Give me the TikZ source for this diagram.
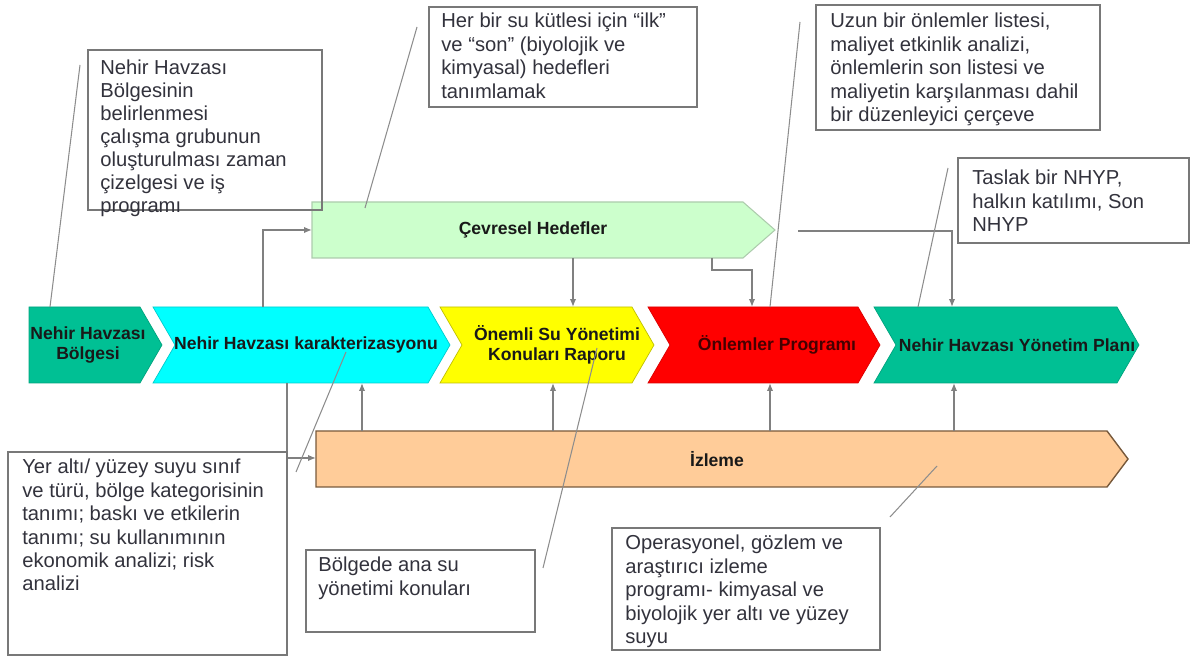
\documentclass[tikz,border=0pt]{standalone}
\usepackage{fontspec}
\setmainfont{Liberation Sans}
\usetikzlibrary{arrows.meta, positioning, calc}
\definecolor{havza}{RGB}{0,192,148}
\definecolor{karakter}{RGB}{0,255,255}
\definecolor{rapor}{RGB}{255,255,0}
\definecolor{onlem}{RGB}{255,0,0}
\definecolor{hedef}{RGB}{204,255,204}
\definecolor{izleme}{RGB}{255,204,153}
\definecolor{izlemecizgi}{RGB}{120,90,60}
\definecolor{hatgri}{RGB}{128,128,128}
\definecolor{kutugri}{RGB}{120,120,120}
\definecolor{yazigri}{RGB}{50,50,60}

\begin{document}
\begin{tikzpicture}[x=0.02cm, y=-0.02cm,
  ok/.style={draw=hatgri, line width=0.8pt, -{Latex[length=4.5pt,width=3.6pt]}},
  ip/.style={draw=hatgri!90, line width=0.6pt},
  kutu/.style={draw=kutugri, line width=0.8pt},
  yazi/.style={anchor=north west, align=left, inner sep=0pt, text=yazigri, font=\fontsize{11.5}{13.3}\selectfont},
  etiket/.style={font=\bfseries\fontsize{10}{11.5}\selectfont, text=black!90, align=center}]
  \useasboundingbox (0,0) rectangle (1191,661);

  % ana zincir
  \filldraw[fill=havza, draw=havza!85!black, line width=0.4pt] (29,307) -- (140,307) -- (162,345) -- (140,383) -- (29,383) -- cycle;
  \filldraw[fill=karakter, draw=karakter!80!black, line width=0.4pt] (153,307) -- (428,307) -- (450,345) -- (428,383) -- (153,383) -- (175,345) -- cycle;
  \filldraw[fill=rapor, draw=rapor!75!black, line width=0.4pt] (440,307) -- (632,307) -- (654,345) -- (632,383) -- (440,383) -- (462,345) -- cycle;
  \filldraw[fill=onlem, draw=onlem!85!black, line width=0.4pt] (648,307) -- (858,307) -- (880,345) -- (858,383) -- (648,383) -- (670,345) -- cycle;
  \filldraw[fill=havza, draw=havza!85!black, line width=0.4pt] (874,307) -- (1117,307) -- (1139,345) -- (1117,383) -- (874,383) -- (896,345) -- cycle;
  \node[etiket] (bolge) at (88,345) {Nehir Havzası\\Bölgesi};
  \node[etiket] (karakt) at (306,345) {Nehir Havzası karakterizasyonu};
  \node[etiket] (rapor) at (557,345) {Önemli Su Yönetimi\\Konuları Raporu};
  \node[etiket, text={rgb,255:red,70;green,0;blue,0}] (onlemler) at (777,345) {Önlemler Programı};
  \node[etiket] (plan) at (1017,345) {Nehir Havzası Yönetim Planı};

  % hedefler ve izleme
  \filldraw[fill=hedef, draw=hedef!60!gray, line width=0.6pt] (312,202) -- (743,202) -- (775,230) -- (743,258) -- (312,258) -- cycle;
  \node[etiket] (hedefler) at (533,230) {Çevresel Hedefler};
  \filldraw[fill=izleme, draw=izlemecizgi, line width=0.8pt] (316,431) -- (1107,431) -- (1128,459) -- (1107,487) -- (316,487) -- cycle;
  \node[etiket] (izlem) at (717,459) {İzleme};

  \coordinate (cevW) at (312,230);
  \coordinate (cevS) at (0,258);
  \coordinate (zU) at (0,307);
  \coordinate (zA) at (0,383);
  \coordinate (izU) at (0,431);
  \coordinate (izW) at (316,458);

  % bağlantılar
  \draw[ok] (263,0 |- zU) |- (cevW);
  \draw[ok] (573,0 |- cevS) -- (573,0 |- zU);
  \draw[ok] (712,0 |- cevS) -- (712,270) -| (752,0 |- zU);
  \draw[ok] (798,231) -| (952,0 |- zU);
  \foreach \x in {362,553,770,954}
    \draw[ok] (\x,0 |- izU) -- (\x,0 |- zA);
  \draw[ok] (287,0 |- zA) |- (izW);

  % açıklama kutuları
  \draw[kutu] (88,50) rectangle (322,210);
  \node[yazi, font=\fontsize{11.5}{13}\selectfont] (n1) at (100,60) {Nehir Havzası\\Bölgesinin\\belirlenmesi\\çalışma grubunun\\oluşturulması zaman\\çizelgesi ve iş\\programı};
  \draw[kutu] (429,7) rectangle (697,107);
  \node[yazi] (n2) at (441,13) {Her bir su kütlesi için “ilk”\\ve “son” (biyolojik ve\\kimyasal) hedefleri\\tanımlamak};
  \draw[kutu] (816,5) rectangle (1100,130);
  \node[yazi] (n3) at (830,13) {Uzun bir önlemler listesi,\\maliyet etkinlik analizi,\\önlemlerin son listesi ve\\maliyetin karşılanması dahil\\bir düzenleyici çerçeve};
  \draw[kutu] (958,158) rectangle (1189,243);
  \node[yazi] (n4) at (972,170) {Taslak bir NHYP,\\halkın katılımı, Son\\NHYP};
  \draw[kutu] (8,452) rectangle (287,655);
  \node[yazi] (n5) at (22,459) {Yer altı/ yüzey suyu sınıf\\ve türü, bölge kategorisinin\\tanımı; baskı ve etkilerin\\tanımı; su kullanımının\\ekonomik analizi; risk\\analizi};
  \draw[kutu] (306,550) rectangle (535,632);
  \node[yazi] (n6) at (318,557) {Bölgede ana su\\yönetimi konuları};
  \draw[kutu] (612,528) rectangle (880,650);
  \node[yazi] (n7) at (625,535) {Operasyonel, gözlem ve\\araştırıcı izleme\\programı- kimyasal ve\\biyolojik yer altı ve yüzey\\suyu};

  % işaret çizgileri
  \draw[ip] (80,65) -- (50,307);
  \draw[ip] (365,208) -- (417,27);
  \draw[ip] (800,22) -- (770,307);
  \draw[ip] (948,168) -- (918,307);
  \draw[ip] (346,352) -- (296,472);
  \draw[ip] (597,348) -- (543,568);
  \draw[ip] (937,466) -- (890,517);
\end{tikzpicture}
\end{document}
